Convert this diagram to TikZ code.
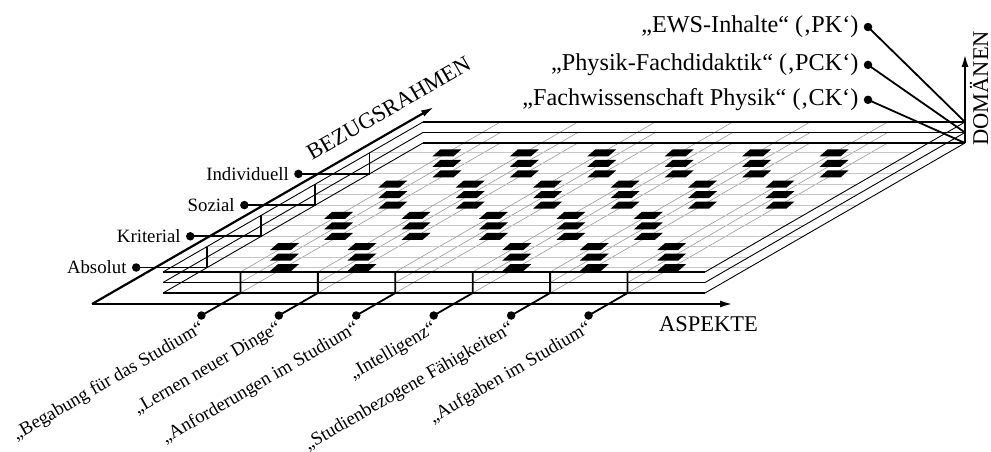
\documentclass[tikz,border=0pt]{standalone}
\usepackage{fontspec}
\setmainfont{Liberation Serif}
\usetikzlibrary{positioning,arrows.meta,calc}

\tikzset{
  hgrid/.style={black!22,line width=0.9pt},
  sgrid/.style={black!40,line width=0.6pt},
  edgeline/.style={line width=1.8pt},
  sideline/.style={line width=0.9pt},
  linkline/.style={line width=1.8pt},
  axisline/.style={line width=2.2pt,-{Latex[length=13pt,width=7pt]}},
  dotnode/.style={circle,fill=black,inner sep=0pt,minimum size=8.5pt},
  smalllabel/.style={font=\fontsize{18.8}{20}\selectfont,inner sep=2pt},
  domlabel/.style={font=\fontsize{24.2}{26}\selectfont,inner sep=2pt},
  axislabel/.style={font=\fontsize{22.5}{24}\selectfont,inner sep=0pt}
}

\begin{document}
\begin{tikzpicture}[x=1pt,y=-1pt]
\useasboundingbox (0,0) rectangle (991,452);
%% the three layers, bottom one first
\foreach \i in {2,1,0}{
  \coordinate (fl\i) at (163,272+10.5*\i);
  \coordinate (fr\i) at (705,272+10.5*\i);
  \coordinate (bl\i) at (423,122+10.5*\i);
  \coordinate (br\i) at (965,122+10.5*\i);
  \foreach \k in {1,...,6}
    \draw[sgrid] ($(fl\i)!\k/7!(fr\i)$) -- ($(bl\i)!\k/7!(br\i)$);
  \foreach \t in {0.17,0.378,0.586,0.794}
    \draw[hgrid] ($(fl\i)!\t!(bl\i)$) -- ($(fr\i)!\t!(br\i)$);
}
%the marked cells
\foreach \i in {2,1,0}{
  \foreach \t/\klist in {0.17/{1,2,4,5,6},0.378/{1,2,3,4,5},0.586/{1,2,3,4,5,6},0.794/{1,2,3,4,5,6}}{
    \foreach \k in \klist
      \fill ($(163+542*\k/7+260*\t,272+10.5*\i-150*\t)+(-14.5,3.5)$)
        -- ++(21,0) -- ++(8,-7) -- ++(-21,0) -- cycle;
  }
}
%layer outlines
\foreach \i in {2,1,0}{
  \draw[edgeline] (fl\i) -- (fr\i);
  \draw[edgeline] (bl\i) -- (br\i);
  \draw[sideline] (fl\i) -- (bl\i);
  \draw[sideline] (fr\i) -- (br\i);
}
%% axes
\coordinate (axOrigin) at (92,304);
\coordinate (axAspEnd) at (733,304);
\coordinate (axBezEnd) at (434,107);
\coordinate (axDomEnd) at (965,54);
\draw[axisline] (axOrigin) -- (axAspEnd);
\draw[axisline] (axOrigin) -- (axBezEnd);
\draw[axisline] (br2) -- (axDomEnd);
\node[axislabel,anchor=base west] (lblAspekte) at (659,331) {ASPEKTE};
\node[axislabel,anchor=base west,rotate=30] (lblBezug) at (312,161) {BEZUGSRAHMEN};
\node[axislabel,anchor=base west,rotate=90] (lblDomaenen) at (988,146) {DOMÄNEN};
%% aspects along the front
\foreach \k/\txt in {1/{„Begabung für das Studium“},2/{„Lernen neuer Dinge“},3/{„Anforderungen im Studium“},4/{„Intelligenz“},5/{„Studienbezogene Fähigkeiten“},6/{„Aufgaben im Studium“}}{
  \coordinate (aspTop\k) at ($(fl0)!\k/7!(fr0)$);
  \coordinate (aspBot\k) at ($(fl2)!\k/7!(fr2)$);
  \node[dotnode] (aspDot\k) at ($(aspBot\k)+(-39,22.5)$) {};
  \node[smalllabel,rotate=30,anchor=north east] (aspLbl\k) at ($(aspDot\k)+(-2,1.5)$) {\txt};
  \draw[linkline] (aspTop\k) -- (aspBot\k) -- (aspDot\k.center);
}
%% reference frames on the left side
\foreach \t/\txt/\r in {0.17/Absolut/1,0.378/Kriterial/2,0.586/Sozial/3,0.794/Individuell/4}{
  \coordinate (refTop\r) at ($(fl0)!\t!(bl0)$);
  \coordinate (refBot\r) at ($(fl2)!\t!(bl2)$);
  \node[dotnode] (refDot\r) at ($(refBot\r)+(-71,0)$) {};
  \node[smalllabel,left=3pt of refDot\r] (refLbl\r) {\txt};
  \draw[linkline] (refTop\r) -- (refBot\r) -- (refDot\r.center);
}
%% domains top right
\node[dotnode] (domDotPK) at (868,27) {};
\node[dotnode,below=29pt of domDotPK] (domDotPCK) {};
\node[dotnode,below=26pt of domDotPCK] (domDotCK) {};
\node[domlabel,left=3pt of domDotPK] (domLblPK) {„EWS-Inhalte“ (‚PK‘)};
\node[domlabel,left=3pt of domDotPCK] (domLblPCK) {„Physik-Fachdidaktik“ (‚PCK‘)};
\node[domlabel,left=3pt of domDotCK] (domLblCK) {„Fachwissenschaft Physik“ (‚CK‘)};
\draw[linkline] (domDotPK.center) -- (br0);
\draw[linkline] (domDotPCK.center) -- (br1);
\draw[linkline] (domDotCK.center) -- (br2);
\end{tikzpicture}
\end{document}
